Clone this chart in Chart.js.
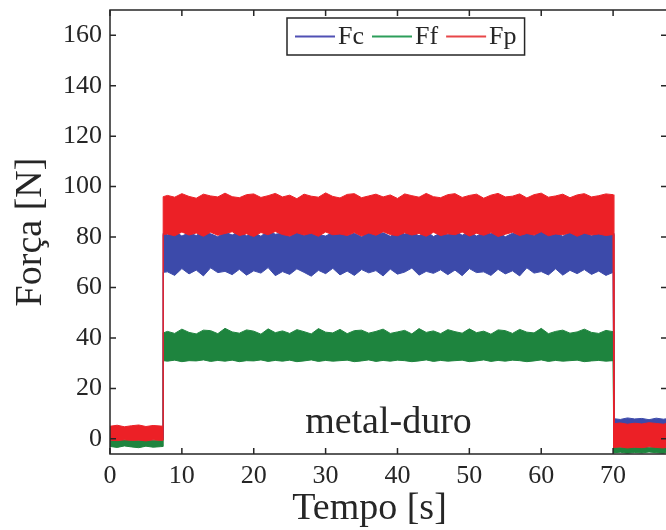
<!DOCTYPE html>
<html>
<head>
<meta charset="utf-8">
<script src="https://cdn.jsdelivr.net/npm/chart.js@4.4.0/dist/chart.umd.min.js"></script>
<style>
  html, body { margin: 0; padding: 0; overflow: hidden; background: #fff; }
  canvas { display: block; }
</style>
</head>
<body>
<canvas id="force-chart" width="680" height="530"></canvas>
<script>
// time samples [s]; 7.4 and 70.1 appear twice for the vertical steps
const TIME = [0, 1, 2, 3, 4, 5, 6, 7, 7.4,
  7.4, 8, 9, 10, 11, 12, 13, 14, 15, 16, 17, 18, 19, 20, 21, 22, 23, 24, 25, 26, 27, 28, 29,
  30, 31, 32, 33, 34, 35, 36, 37, 38, 39, 40, 41, 42, 43, 44, 45, 46, 47, 48, 49, 50, 51,
  52, 53, 54, 55, 56, 57, 58, 59, 60, 61, 62, 63, 64, 65, 66, 67, 68, 69, 70, 70.1,
  70.1, 71, 72, 73, 74, 75, 76, 77, 77.5];

// upper / lower envelope of each noisy signal [N]
const FP_HI = [5.0, 5.4, 4.8, 5.2, 5.5, 4.9, 5.3, 5.1, 5.0,
  96.0, 96.5, 95.8, 97.2, 96.1, 95.4, 97.0, 96.3, 95.9, 97.4,
  96.0, 95.6, 96.8, 97.1, 95.7, 96.4, 97.3, 95.9, 96.6, 95.2,
  97.0, 96.2, 95.8, 97.5, 96.1, 95.5, 96.9, 97.2, 95.6, 96.3,
  97.0, 95.9, 96.7, 95.3, 97.1, 96.4, 95.8, 97.3, 96.0, 95.6,
  96.8, 97.2, 95.7, 96.5, 97.0, 95.4, 96.6, 97.3, 95.9, 96.2,
  97.1, 95.5, 96.8, 97.4, 95.8, 96.3, 97.0, 95.6, 96.7, 97.2,
  95.9, 96.4, 97.1, 96.8, 96.5,
  6.0, 6.3, 5.8, 6.2, 5.9, 6.4, 6.1, 5.8, 6.2];
const FP_LO = [-0.5, -0.7, -0.4, -0.6, -0.5, -0.8, -0.4, -0.6, -0.5,
  81.0, 81.2, 80.5, 82.0, 80.8, 81.6, 80.3, 81.9, 80.7, 81.4,
  82.1, 80.6, 81.3, 80.2, 81.8, 80.9, 82.2, 81.0, 80.4, 81.7,
  80.8, 81.5, 80.3, 82.0, 80.9, 81.2, 80.6, 81.8, 80.4, 81.6,
  80.7, 82.1, 81.0, 80.5, 81.7, 80.8, 81.4, 80.3, 81.9, 80.6,
  81.3, 80.9, 82.0, 80.4, 81.5, 80.7, 81.8, 80.2, 81.1, 81.9,
  80.6, 81.4, 80.8, 82.1, 80.5, 81.2, 80.9, 81.7, 80.3, 81.5,
  80.8, 81.2, 80.6, 81.0, 81.0,
  -3.4, -3.2, -3.6, -3.3, -3.5, -3.1, -3.4, -3.6, -3.3];
const FC_HI = [2.8, 3.0, 2.6, 2.9, 3.1, 2.7, 2.9, 3.0, 2.8,
  81.5, 80.9, 82.3, 80.4, 81.7, 80.6, 82.5, 81.3, 80.1, 82.0,
  80.8, 82.4, 80.5, 81.9, 80.3, 82.6, 81.1, 81.6, 80.2, 82.1,
  80.7, 82.3, 81.0, 80.4, 81.8, 82.5, 80.6, 81.5, 80.1, 82.2,
  80.9, 81.7, 80.3, 82.7, 81.2, 81.9, 80.5, 82.4, 80.2, 81.6,
  81.0, 82.5, 80.7, 82.1, 80.4, 81.8, 81.3, 82.3, 80.1, 81.5,
  80.8, 82.2, 80.6, 82.6, 81.1, 81.7, 80.3, 82.0, 80.9, 82.4,
  80.5, 81.8, 81.2, 81.5, 81.5,
  8.0, 7.7, 8.3, 7.9, 8.1, 7.6, 8.2, 7.8, 8.0];
const FC_LO = [0.2, 0.0, 0.3, 0.1, 0.0, 0.2, 0.1, 0.3, 0.2,
  66.0, 66.2, 64.8, 67.5, 65.4, 66.9, 64.6, 67.8, 65.9, 66.4,
  65.1, 67.2, 64.9, 66.6, 65.7, 67.9, 64.7, 66.3, 65.2, 67.4,
  66.0, 64.5, 66.8, 65.5, 67.6, 65.0, 66.5, 64.8, 67.1, 65.8,
  66.7, 64.6, 67.3, 65.3, 66.1, 67.7, 64.9, 66.4, 65.6, 67.0,
  65.1, 66.9, 64.7, 67.5, 65.9, 66.2, 64.8, 67.2, 65.4, 66.6,
  64.6, 67.8, 65.7, 66.3, 65.0, 67.4, 64.9, 66.8, 65.5, 67.1,
  65.2, 66.5, 64.8, 66.0, 66.0,
  0.0, 0.2, 0.1, 0.3, 0.0, 0.2, 0.1, 0.0, 0.2];
const FF_HI = [-0.5, -0.6, -0.4, -0.5, -0.6, -0.4, -0.5, -0.6, -0.5,
  42.0, 42.6, 41.8, 43.5, 42.2, 41.6, 43.1, 42.9, 41.7, 43.8,
  42.4, 41.9, 43.2, 42.7, 41.5, 43.6, 42.1, 42.8, 41.8, 43.3,
  42.5, 41.6, 43.7, 42.3, 42.0, 43.4, 41.7, 42.9, 43.1, 41.9,
  42.6, 43.5, 41.8, 42.4, 43.0, 41.6, 43.7, 42.2, 42.8, 41.7,
  43.3, 42.5, 41.9, 43.6, 42.1, 42.7, 41.5, 43.2, 42.9, 41.8,
  43.4, 42.3, 42.0, 43.8, 41.7, 42.6, 43.1, 41.9, 42.4, 43.5,
  42.2, 41.8, 43.0, 42.5, 42.0,
  -3.4, -3.3, -3.5, -3.4, -3.3, -3.5, -3.4, -3.3, -3.4];
const FF_LO = [-3.0, -3.4, -2.8, -3.2, -3.5, -2.9, -3.3, -3.1, -3.0,
  31.0, 30.8, 31.2, 30.6, 31.0, 30.9, 31.3, 30.7, 31.1, 30.8,
  31.2, 30.6, 31.0, 30.9, 31.3, 30.7, 31.1, 30.8, 31.2, 30.6,
  30.9, 31.3, 30.7, 31.1, 30.8, 31.0, 31.2, 30.6, 30.9, 31.3,
  30.7, 31.1, 30.8, 31.2, 31.0, 30.6, 30.9, 31.3, 30.7, 31.1,
  30.8, 31.0, 31.2, 30.6, 30.9, 31.3, 30.7, 31.1, 30.8, 31.2,
  31.0, 30.6, 30.9, 31.3, 30.7, 31.1, 30.8, 31.0, 31.2, 30.6,
  30.9, 31.1, 30.8, 31.0, 31.0,
  -5.5, -5.3, -5.7, -5.4, -5.6, -5.2, -5.5, -5.7, -5.4];

const X_TICKS = [0, 10, 20, 30, 40, 50, 60, 70];
const Y_TICKS = [0, 20, 40, 60, 80, 100, 120, 140, 160];
const LEGEND = ["Fc", "Ff", "Fp"];
const NOTE = "metal-duro";

const COLORS = { Fc: "rgb(60, 74, 170)", Ff: "rgb(30, 132, 62)", Fp: "rgb(236, 32, 38)" };
const LEGEND_COLORS = { Fc: "rgb(80, 80, 180)", Ff: "rgb(44, 158, 90)", Fp: "rgb(232, 70, 72)" };
const inkColor = "#262626";
const serif = '"Liberation Serif", "Times New Roman", serif';

Chart.defaults.font.family = serif;
Chart.defaults.color = inkColor;

const points = (arr) => TIME.map((t, i) => ({ x: t, y: arr[i] }));

const band = (label, hi, lo, order) => [
    {
        label: label + " min",
        data: points(lo),
        borderColor: COLORS[label],
        borderWidth: 1,
        pointRadius: 0,
        fill: false,
        order
    },
    {
        label: label,
        data: points(hi),
        borderColor: COLORS[label],
        backgroundColor: COLORS[label],
        borderWidth: 1,
        pointRadius: 0,
        fill: "-1",
        order
    }
];

// frame with inward ticks, in-plot legend and annotation
const framePlugin = {
    id: "frame",
    afterDraw(chart) {
        const { ctx, chartArea: a, scales: { x, y } } = chart;
        ctx.save();
        ctx.strokeStyle = inkColor;
        ctx.lineWidth = 1.5;
        ctx.strokeRect(a.left, a.top, a.right - a.left, a.bottom - a.top);
        ctx.beginPath();
        X_TICKS.forEach(v => {
            const px = x.getPixelForValue(v);
            ctx.moveTo(px, a.bottom); ctx.lineTo(px, a.bottom - 6);
            ctx.moveTo(px, a.top); ctx.lineTo(px, a.top + 6);
        });
        Y_TICKS.forEach(v => {
            const py = y.getPixelForValue(v);
            ctx.moveTo(a.left, py); ctx.lineTo(a.left + 6, py);
            ctx.moveTo(a.right, py); ctx.lineTo(a.right - 6, py);
        });
        ctx.stroke();

        ctx.fillStyle = inkColor;
        ctx.font = "38px " + serif;
        ctx.textAlign = "center";
        ctx.textBaseline = "alphabetic";
        ctx.fillText(NOTE, (a.left + a.right) / 2, a.bottom - 21);

        // legend box
        ctx.font = "26px " + serif;
        ctx.textAlign = "left";
        ctx.textBaseline = "middle";
        const lineLen = 40;
        let total = 8;
        LEGEND.forEach(l => { total += lineLen + 3 + ctx.measureText(l).width + 8; });
        const bx = a.left + 177, by = a.top + 8, bh = 37;
        ctx.fillStyle = "#fff";
        ctx.fillRect(bx, by, total, bh);
        ctx.lineWidth = 1.5;
        ctx.strokeStyle = inkColor;
        ctx.strokeRect(bx, by, total, bh);
        let cx = bx + 8;
        const cy = by + bh / 2;
        LEGEND.forEach(l => {
            ctx.strokeStyle = LEGEND_COLORS[l];
            ctx.lineWidth = 2;
            ctx.beginPath();
            ctx.moveTo(cx, cy); ctx.lineTo(cx + lineLen, cy);
            ctx.stroke();
            ctx.fillStyle = inkColor;
            ctx.fillText(l, cx + lineLen + 3, cy + 1);
            cx += lineLen + 3 + ctx.measureText(l).width + 8;
        });
        ctx.restore();
    }
};

const createForceChart = () => {
    const ctx = document.getElementById("force-chart").getContext("2d");
    new Chart(ctx, {
        type: "line",
        data: {
            datasets: [
                ...band("Fp", FP_HI, FP_LO, 1),
                ...band("Fc", FC_HI, FC_LO, 2),
                ...band("Ff", FF_HI, FF_LO, 3)
            ]
        },
        options: {
            responsive: false,
            animation: false,
            events: [],
            layout: { padding: { top: 10, right: 13, left: 0, bottom: 0 } },
            plugins: {
                legend: { display: false },
                tooltip: { enabled: false }
            },
            scales: {
                x: {
                    type: "linear",
                    min: 0,
                    max: 77.5,
                    grid: { display: false, drawTicks: false },
                    border: { display: false },
                    afterBuildTicks: s => { s.ticks = X_TICKS.map(v => ({ value: v })); },
                    afterFit: s => { s.height = 76; s.paddingLeft = 0; s.paddingRight = 0; },
                    ticks: {
                        font: { size: 26 },
                        color: inkColor,
                        padding: 7,
                        maxRotation: 0,
                        autoSkip: false
                    },
                    title: {
                        display: true,
                        text: "Tempo [s]\u2003",
                        font: { size: 38, lineHeight: 1 },
                        color: inkColor,
                        padding: { top: 0, bottom: 2 }
                    }
                },
                y: {
                    min: -6,
                    max: 170,
                    grid: { display: false, drawTicks: false },
                    border: { display: false },
                    afterBuildTicks: s => { s.ticks = Y_TICKS.map(v => ({ value: v })); },
                    afterFit: s => { s.width = 110; s.paddingTop = 0; s.paddingBottom = 0; },
                    ticks: {
                        font: { size: 26 },
                        color: inkColor,
                        padding: 8,
                        autoSkip: false
                    },
                    title: {
                        display: true,
                        text: "Força [N]",
                        font: { size: 38, lineHeight: 1 },
                        color: inkColor,
                        padding: { top: 12, bottom: 0 }
                    }
                }
            }
        },
        plugins: [framePlugin]
    });
};

createForceChart();
</script>
</body>
</html>
